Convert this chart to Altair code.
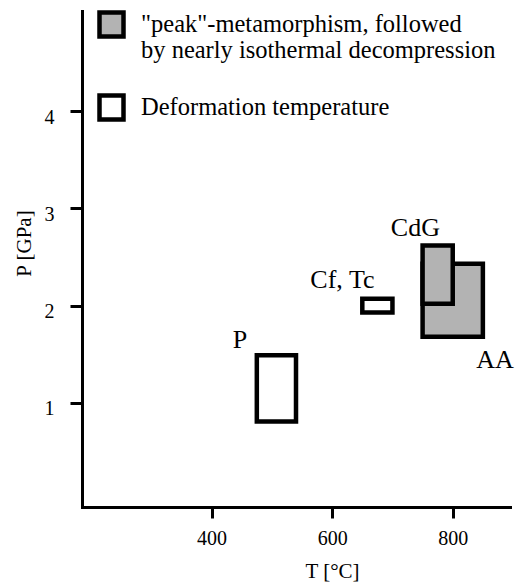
import altair as alt
import pandas as pd

# --- data -------------------------------------------------------------------
box_name = ["P", "Cf, Tc", "AA", "CdG"]
box_kind_idx = [1, 1, 0, 0]
t_min = [475, 650, 750, 750]
t_max = [540, 700, 850, 800]
p_min = [0.81, 1.93, 1.68, 2.02]
p_max = [1.49, 2.07, 2.43, 2.62]

label_text = ["P", "Cf, Tc", "CdG", "AA"]
label_t = [447, 617, 738, 870]
label_p = [1.57, 2.18, 2.72, 1.36]

legend_labels = ['"peak"-metamorphism, followed|by nearly isothermal decompression',
                 "Deformation temperature"]
legend_fill = ["#b3b3b3", "#ffffff"]

x_ticks = [400, 600, 800]
y_ticks = [1, 2, 3, 4]
# -----------------------------------------------------------------------------

FONT = "Liberation Serif"

boxes_df = pd.DataFrame({
    "name": box_name,
    "kind": [legend_labels[i] for i in box_kind_idx],
    "t0": t_min, "t1": t_max, "p0": p_min, "p1": p_max,
    "order": list(range(len(box_name))),
})
labels_df = pd.DataFrame({"label": label_text, "t": label_t, "p": label_p})

xs = alt.Scale(domain=[185, 895], nice=False, zero=False)
ys = alt.Scale(domain=[-0.07, 5.03], nice=False, zero=False)

x_axis = alt.Axis(
    values=x_ticks, format="d", title="T [°C]",
    labelPadding=10, tickSize=11,
    titleX=250, titleY=70.5, titleBaseline="alphabetic", titleAlign="center",
)
y_axis = alt.Axis(
    values=y_ticks, format="d", title="P [GPa]",
    labelPadding=16, labelOffset=6, tickSize=12,
    titleAngle=270, titleX=-52, titleY=232, titleBaseline="alphabetic",
    titleAlign="center",
)

legend = alt.Legend(
    title=None, orient="none", legendX=15, legendY=-1, padding=0,
    symbolType="square", symbolSize=576, symbolStrokeWidth=4.5,
    symbolStrokeColor="black", symbolOpacity=1,
    labelFont=FONT, labelFontSize=24.5, labelColor="black", labelLimit=0,
    labelOffset=15, rowPadding=23,
    labelExpr="split(datum.label, '|')",
)

boxes = alt.Chart(boxes_df).mark_rect(
    stroke="black", strokeWidth=4.5, opacity=1, strokeJoin="miter"
).encode(
    x=alt.X("t0:Q", scale=xs, axis=x_axis),
    x2="t1:Q",
    y=alt.Y("p0:Q", scale=ys, axis=y_axis),
    y2="p1:Q",
    fill=alt.Fill("kind:N", scale=alt.Scale(domain=legend_labels, range=legend_fill),
                  legend=legend),
    order=alt.Order("order:Q"),
)

texts = alt.Chart(labels_df).mark_text(
    font=FONT, fontSize=26, baseline="alphabetic", align="center", color="black"
).encode(
    x=alt.X("t:Q", scale=xs, axis=x_axis),
    y=alt.Y("p:Q", scale=ys, axis=y_axis),
    text="label:N",
)

chart = alt.layer(boxes, texts).properties(
    width=428, height=496,
    autosize=alt.AutoSizeParams(type="none"),
    padding={"left": 82, "top": 11, "right": 5, "bottom": 76},
    background="white",
).configure_view(stroke=None).configure_axis(
    grid=False,
    labelFont=FONT, labelFontSize=20, labelColor="black", labelFlush=False,
    tickWidth=3, tickColor="black",
    domainColor="black", domainWidth=3, domainCap="square",
    titleFont=FONT, titleFontSize=21, titleFontWeight="normal", titleColor="black",
)

chart.save("out.html", embed_options={"renderer": "svg", "actions": False})
